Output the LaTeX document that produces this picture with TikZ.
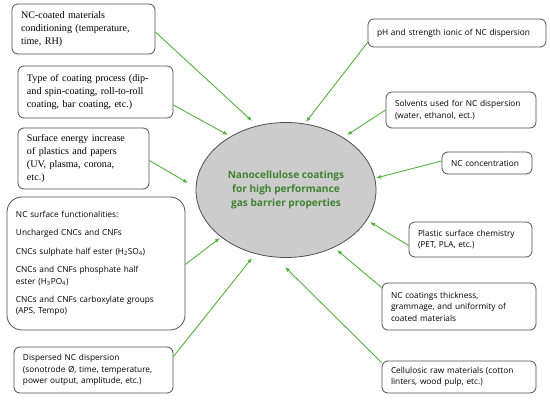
\documentclass[tikz,border=0pt]{standalone}
\usepackage{fontspec}
\setmainfont{Liberation Serif}
\setsansfont{Open Sans}
\usepackage{tikz}
\usetikzlibrary{arrows.meta, shapes.geometric, calc}

\definecolor{arrowgreen}{RGB}{84,176,64}
\definecolor{titlegreen}{RGB}{64,130,48}
\definecolor{boxgray}{RGB}{80,80,80}

\tikzset{
    factor/.style={draw=boxgray, line width=0.8pt, rounded corners=6pt,
        inner xsep=9pt, inner ysep=2pt, align=left, anchor=center},
    serifbox/.style={factor, font=\fontsize{10.1}{13}\selectfont},
    sansbox/.style={factor, font=\sffamily\fontsize{8.3}{11.4}\selectfont},
    influence/.style={arrowgreen, line width=0.9pt, -{Latex[length=5pt, width=4pt]}},
}

\begin{document}
\begin{tikzpicture}[x=1pt, y=-1pt]
    \useasboundingbox (0,0) rectangle (550,401);

    % central ellipse
    \node[ellipse, draw=boxgray, line width=0.8pt, fill=black!20,
          minimum width=180pt, minimum height=135pt, align=center,
          text=titlegreen, font=\sffamily\bfseries\fontsize{10.1}{14}\selectfont]
          (nc) at (286,190)
          {Nanocellulose coatings\\for high performance\\gas barrier properties};

    % left column (process side)
    \node[serifbox, text width=125pt, minimum height=50pt] (cond) at (83.5,29)
        {NC-coated materials\\conditioning (temperature,\\time, RH)};
    \node[serifbox, text width=137pt, minimum height=52pt] (proc) at (95.5,92)
        {Type of coating process (dip-\\and spin-coating, roll-to-roll\\coating, bar coating, etc.)};
    \node[serifbox, text width=113pt, minimum height=61pt] (surf) at (83.5,158.5)
        {Surface energy increase\\of plastics and papers\\(UV, plasma, corona,\\etc.)};
    \node[sansbox, rounded corners=15pt, text width=160pt, minimum height=133pt] (func) at (96,263.5)
        {NC surface functionalities:\\[7pt]
         Uncharged CNCs and CNFs\\[7pt]
         CNCs sulphate half ester (H\textsubscript{2}SO\textsubscript{4})\\[7pt]
         CNCs and CNFs phosphate half\\ester (H\textsubscript{3}PO\textsubscript{4})\\[7pt]
         CNCs and CNFs carboxylate groups\\(APS, Tempo)};
    \node[sansbox, text width=141pt, minimum height=46pt] (disp) at (93.5,370)
        {Dispersed NC dispersion\\(sonotrode Ø, time, temperature,\\power output, amplitude, etc.)};

    % right column (material side)
    \node[sansbox, text width=160pt, minimum height=28pt] (ph) at (457,33)
        {pH and strength ionic of NC dispersion};
    \node[sansbox, text width=132pt, minimum height=36pt] (solv) at (461,110)
        {Solvents used for NC dispersion\\(water, ethanol, ect.)};
    \node[sansbox, text width=72pt, minimum height=22pt] (conc) at (487,163)
        {NC concentration};
    \node[sansbox, text width=105pt, minimum height=35pt] (chem) at (470.5,239.5)
        {Plastic surface chemistry\\(PET, PLA, etc.)};
    \node[sansbox, text width=136pt, minimum height=47pt] (thick) at (459,306.5)
        {NC coatings thickness,\\grammage, and uniformity of\\coated materials};
    \node[sansbox, text width=136pt, minimum height=32pt] (raw) at (459,377)
        {Cellulosic raw materials (cotton\\linters, wood pulp, etc.)};

    % arrow heads stop just short of the ellipse
    \coordinate (hcond) at (252,121);
    \coordinate (hproc) at (228,135);
    \coordinate (hsurf) at (188,183);
    \coordinate (hfunc) at (220,238);
    \coordinate (hdisp) at (252,258);
    \coordinate (hph)   at (306,122);
    \coordinate (hsolv) at (347,135);
    \coordinate (hconc) at (376,178);
    \coordinate (hchem) at (370,222);
    \coordinate (hthick) at (337,250);
    \coordinate (hraw)  at (285,267);

    \draw[influence] ([yshift=-3pt]cond.east) -- (hcond);
    \draw[influence] ([yshift=-13pt]proc.east) -- (hproc);
    \draw[influence] ([yshift=-2pt]surf.east) -- (hsurf);
    \draw[influence] ([yshift=-1pt]func.east) -- (hfunc);
    \draw[influence] ([yshift=-10pt]disp.north east) -- (hdisp);
    \draw[influence] ([yshift=5pt]ph.south west) -- (hph);
    \draw[influence] (solv.west) -- (hsolv);
    \draw[influence] ([yshift=2pt]conc.west) -- (hconc);
    \draw[influence] ([yshift=-6pt]chem.west) -- (hchem);
    \draw[influence] ([yshift=-5pt]thick.north west) -- (hthick);
    \draw[influence] ([yshift=-2pt]raw.north west) -- (hraw);

\end{tikzpicture}
\end{document}
